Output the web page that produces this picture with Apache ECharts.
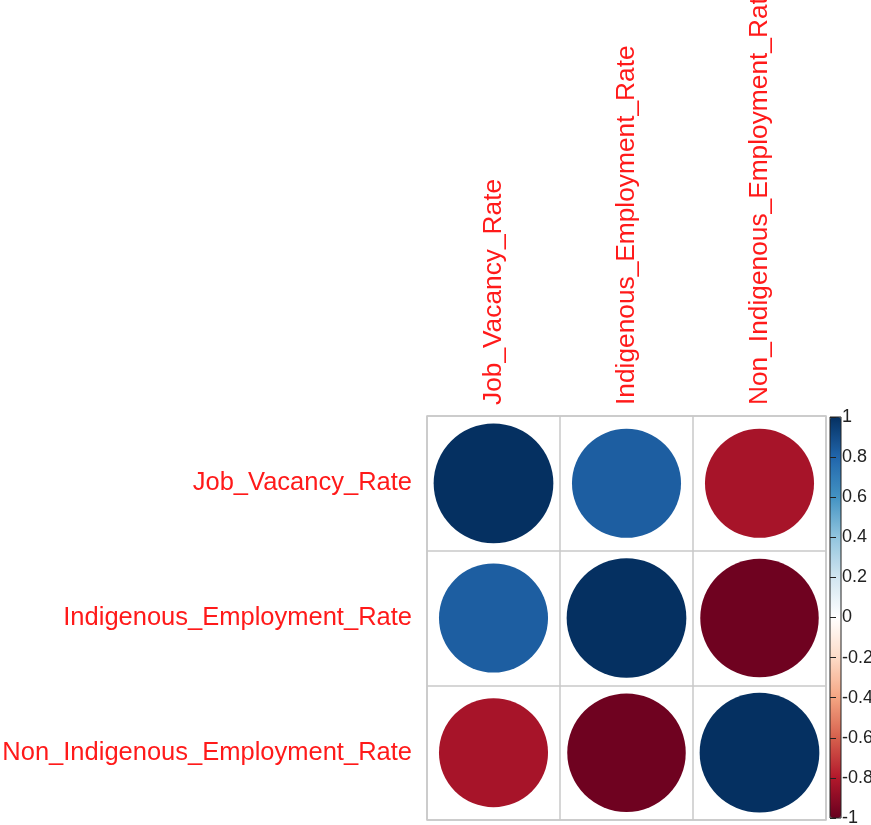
<!DOCTYPE html>
<html>
<head>
<meta charset="utf-8">
<script src="https://cdn.jsdelivr.net/npm/echarts@6/dist/echarts.min.js"></script>
<style>
  html, body { margin: 0; padding: 0; background: #fff; }
  #chart { width: 871px; height: 825px; }
</style>
</head>
<body>
<div id="chart"></div>
<script>
// Variables in the correlation matrix
const variables = ['Job_Vacancy_Rate', 'Indigenous_Employment_Rate', 'Non_Indigenous_Employment_Rate'];

// Correlation coefficients, one row per variable
const rowJobVacancy = [1.00, 0.83, -0.83];
const rowIndigenous = [0.83, 1.00, -0.98];
const rowNonIndigenous = [-0.83, -0.98, 1.00];
const corrRows = [rowJobVacancy, rowIndigenous, rowNonIndigenous];

// Colour bar scale
const scaleMin = -1;
const scaleMax = 1;
const scaleStep = 0.2;

// Red-blue diverging palette, from -1 to 1
const palette = ['#67001F', '#B2182B', '#D6604D', '#F4A582', '#FDDBC7', '#FFFFFF',
                 '#D1E5F0', '#92C5DE', '#4393C3', '#2166AC', '#053061'];

const CELL_W = 133;
const cells = [];
corrRows.forEach((row, r) => {
  row.forEach((v, c) => cells.push([c, r, v]));
});

const chart = echarts.init(document.getElementById('chart'));
chart.setOption({
  backgroundColor: '#fff',
  animation: false,
  textStyle: { fontFamily: 'Liberation Sans, Arial, sans-serif' },
  grid: [
    { left: 427, top: 416, width: 399, height: 404, show: true, outerBoundsMode: 'none',
      containLabel: false,
      borderColor: '#C8C8C8', borderWidth: 1.5, backgroundColor: 'transparent' },
    { left: 830, top: 417, width: 11, height: 401, show: true, z: 10, outerBoundsMode: 'none',
      containLabel: false,
      borderColor: '#222', borderWidth: 1, backgroundColor: 'transparent' }
  ],
  xAxis: [
    {
      type: 'category', data: variables, gridIndex: 0, position: 'top',
      axisLine: { show: false }, axisTick: { show: false },
      splitLine: { show: true, lineStyle: { color: '#C8C8C8', width: 1.5 } },
      axisLabel: { rotate: -90, color: '#FF1A1A', fontSize: 26.3, margin: 11, interval: 0 }
    },
    { type: 'value', gridIndex: 1, show: false, min: 0, max: 1 }
  ],
  yAxis: [
    {
      type: 'category', data: variables, gridIndex: 0, inverse: true,
      axisLine: { show: false }, axisTick: { show: false },
      splitLine: { show: true, lineStyle: { color: '#C8C8C8', width: 1.5 } },
      axisLabel: { color: '#FF1A1A', fontSize: 25.5, margin: 15, interval: 0,
                   padding: [6, 0, 0, 0] }
    },
    {
      type: 'value', gridIndex: 1, position: 'right', z: 12,
      min: scaleMin, max: scaleMax, interval: scaleStep,
      axisLine: { show: false },
      axisTick: { show: true, length: 6, lineStyle: { color: '#222' } },
      splitLine: { show: false },
      axisLabel: { color: '#222', fontSize: 18, margin: 1 }
    }
  ],
  visualMap: {
    type: 'continuous', min: scaleMin, max: scaleMax, seriesIndex: 0, dimension: 2,
    inRange: { color: palette },
    show: true, calculable: false, orient: 'vertical',
    left: 830, top: 417, itemWidth: 11, itemHeight: 401, padding: 0,
    text: null, hoverLink: false
  },
  series: [{
    type: 'scatter',
    xAxisIndex: 0, yAxisIndex: 0,
    data: cells,
    symbol: 'circle',
    symbolSize: (val) => CELL_W * 0.9 * Math.sqrt(Math.abs(val[2])),
    itemStyle: { opacity: 1 },
    emphasis: { disabled: true }
  }]
});
</script>
</body>
</html>
